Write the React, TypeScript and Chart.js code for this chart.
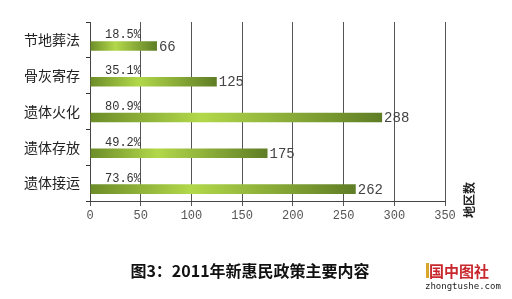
import React, { useEffect, useRef } from "react";
import { Chart, registerables } from "chart.js";

Chart.register(...registerables);

const categories = ["节地葬法", "骨灰寄存", "遗体火化", "遗体存放", "遗体接运"];
const counts = [66, 125, 288, 175, 262];
const percentLabels = ["18.5%", "35.1%", "80.9%", "49.2%", "73.6%"];
const xTicks = [0, 50, 100, 150, 200, 250, 300, 350];
const axisTitle = "地区数";
const chartTitle = "图3：2011年新惠民政策主要内容";

const barGradient = (context: any) => {
  const chart = context.chart;
  const { ctx, chartArea } = chart;
  if (!chartArea || context.raw == null) return "#8fb83a";
  const xs = chart.scales.x;
  const x0 = xs.getPixelForValue(0);
  const x1 = xs.getPixelForValue(context.raw);
  const g = ctx.createLinearGradient(x0, 0, x1, 0);
  g.addColorStop(0, "#6c8c28");
  g.addColorStop(0.38, "#b2d84a");
  g.addColorStop(1, "#5f7d25");
  return g;
};

const labelsPlugin = {
  id: "customLabels",
  afterDatasetsDraw(chart: any) {
    const { ctx } = chart;
    const meta = chart.getDatasetMeta(1);
    ctx.save();
    meta.data.forEach((bar: any, i: number) => {
      const half = bar.height / 2;
      // percent label above bar
      ctx.font = "12px 'Liberation Mono'";
      ctx.fillStyle = "#333";
      ctx.textAlign = "left";
      ctx.textBaseline = "middle";
      ctx.fillText(percentLabels[i], 105, bar.y - half - 6);
      // value label at bar end
      ctx.font = "14px 'Liberation Mono'";
      ctx.fillStyle = "#444";
      ctx.fillText(String(counts[i]), bar.x + 2, bar.y + 1);
    });
    ctx.restore();
  },
  afterDraw(chart: any) {
    const { ctx } = chart;
    ctx.save();
    // axis title, rotated
    ctx.translate(469, 200);
    ctx.rotate(-Math.PI / 2);
    ctx.font = "bold 12px 'Noto Sans CJK SC'";
    ctx.fillStyle = "#222";
    ctx.textAlign = "center";
    ctx.textBaseline = "middle";
    ctx.fillText(axisTitle, 0, 0);
    ctx.restore();

    ctx.save();
    ctx.font = "bold 16px 'Noto Sans CJK SC'";
    ctx.fillStyle = "#111";
    ctx.textAlign = "center";
    ctx.textBaseline = "middle";
    ctx.fillText(chartTitle, 250, 271);

    // watermark
    ctx.fillStyle = "#d9a52a";
    ctx.fillRect(426, 263, 3, 15);
    ctx.font = "bold 15px 'Noto Sans CJK SC'";
    ctx.fillStyle = "#c8282d";
    ctx.textAlign = "left";
    ctx.fillText("国中图社", 429, 271);
    ctx.font = "9px 'DejaVu Sans Mono'";
    ctx.fillStyle = "#222";
    ctx.fillText("zhongtushe.com", 425, 287);
    ctx.restore();
  },
};

export default function App() {
  const ref = useRef<HTMLCanvasElement | null>(null);
  useEffect(() => {
    if (!ref.current) return;
    const chart = new Chart(ref.current, {
      type: "bar",
      data: {
        labels: categories,
        datasets: [
          { label: "spacer", data: categories.map(() => null), backgroundColor: "transparent" },
          { label: "地区数", data: counts, backgroundColor: barGradient, borderWidth: 0 },
        ],
      },
      options: {
        indexAxis: "y",
        animation: false,
        responsive: true,
        maintainAspectRatio: false,
        categoryPercentage: 0.674,
        barPercentage: 0.79,
        layout: { padding: { top: 22, right: 67, left: 0, bottom: 0 } },
        plugins: { legend: { display: false }, tooltip: { enabled: false }, title: { display: false } },
        scales: {
          x: {
            min: 0,
            max: 350,
            afterFit: (s: any) => { s.height = 98; },
            afterBuildTicks: (s: any) => { s.ticks = xTicks.map((v) => ({ value: v })); },
            grid: { color: "#555", lineWidth: 1, drawTicks: true, tickLength: 5, tickColor: "#555" },
            border: { display: true, color: "#444" },
            ticks: { color: "#555", font: { family: "'Liberation Mono'", size: 12 }, padding: 3 },
          },
          y: {
            afterFit: (s: any) => { s.width = 90; },
            grid: { drawOnChartArea: false, drawTicks: true, tickLength: 4, color: "#333" },
            border: { display: true, color: "#444" },
            ticks: { color: "#222", font: { family: "'Noto Sans CJK SC'", size: 14 }, padding: 6 },
          },
        },
      },
      plugins: [labelsPlugin],
    });
    return () => chart.destroy();
  }, []);
  return (
    <div style={{ position: "fixed", left: 0, top: 0, width: 512, height: 299, background: "#fff" }}>
      <canvas ref={ref} />
    </div>
  );
}
